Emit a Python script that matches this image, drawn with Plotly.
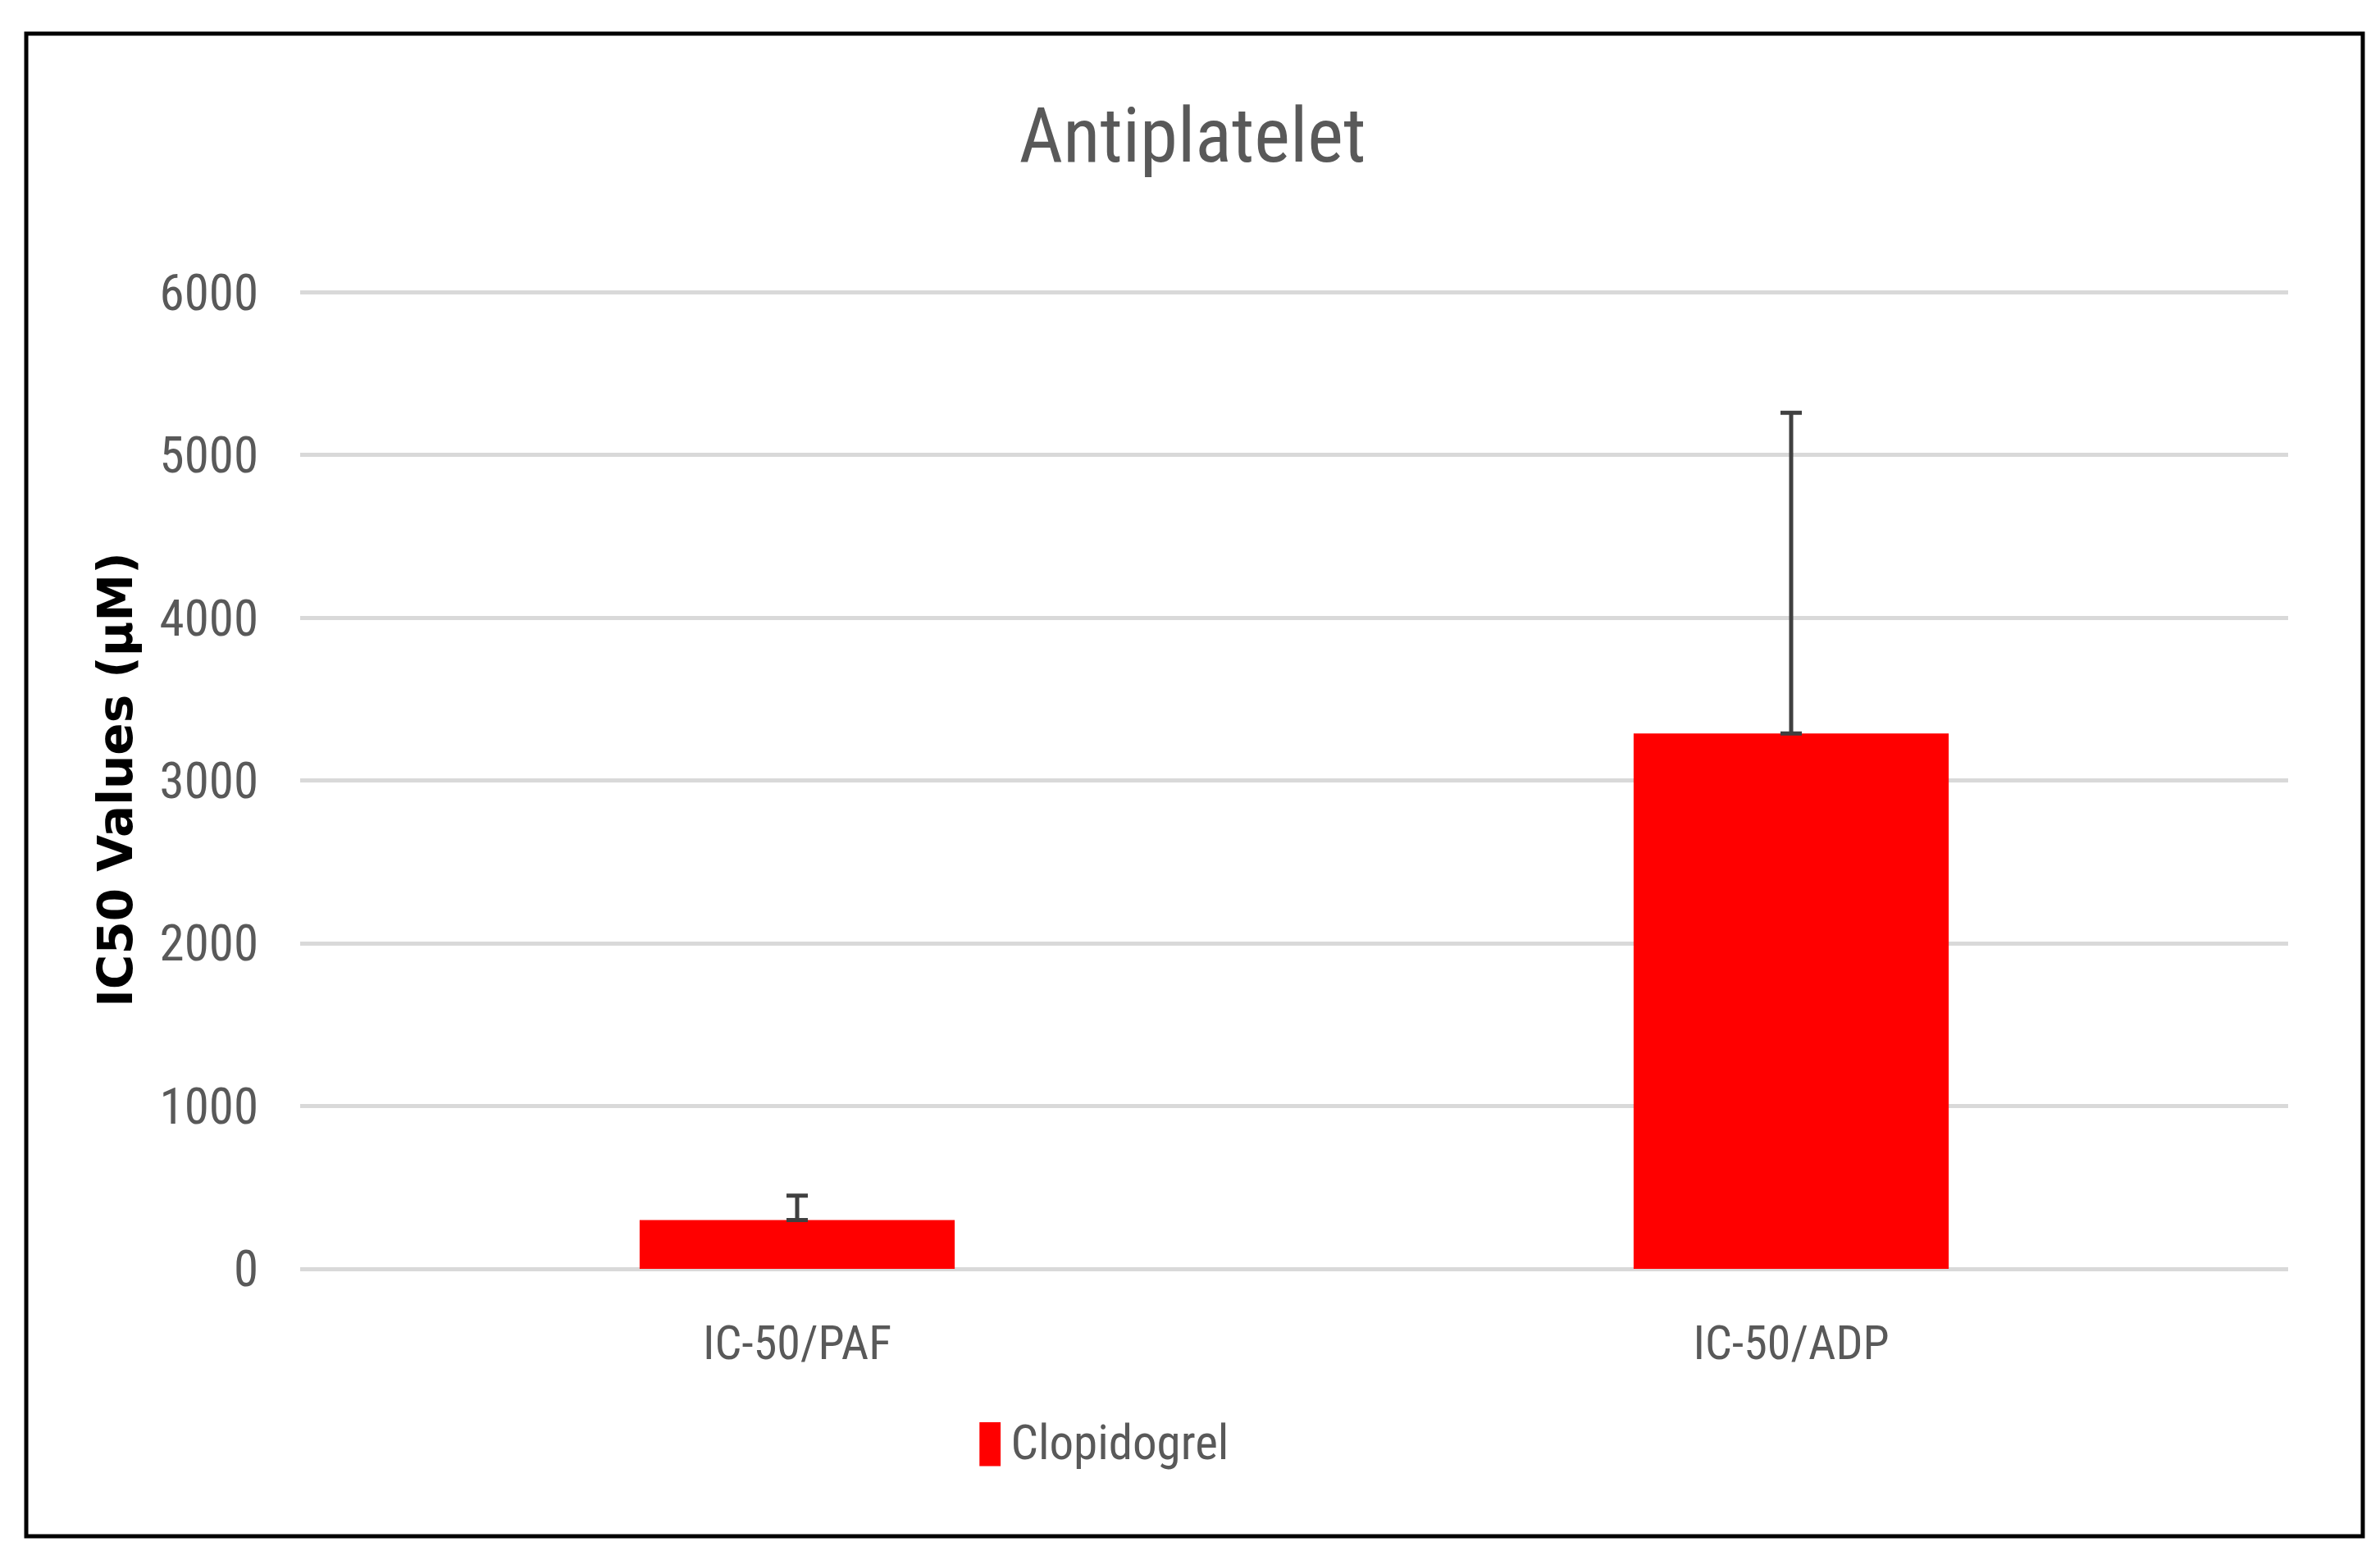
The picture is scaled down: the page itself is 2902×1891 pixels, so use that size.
import plotly.graph_objects as go

# values
categories = ["IC-50/PAF", "IC-50/ADP"]
ic50_values = [300, 3290]
ic50_errors = [150, 1970]
y_ticks = [0, 1000, 2000, 3000, 4000, 5000, 6000]
series_name = "Clopidogrel"

NARROW = "Liberation Sans Narrow, Arial Narrow, Roboto Condensed, Liberation Sans, sans-serif"
GREY = "#595959"
GRID = "#D9D9D9"
W, H = 2902, 1891
ML, MR, MT, MB = 358, 120, 346, 352


def px_to_paper_x(px):
    return (px - ML) / (W - ML - MR)


def px_to_paper_y(py):
    return (H - MB - py) / (H - MT - MB)


fig = go.Figure()
fig.add_trace(go.Bar(
    x=categories,
    y=ic50_values,
    name=series_name,
    marker=dict(color="#FF0000", line=dict(width=0)),
    error_y=dict(type="data", array=ic50_errors, arrayminus=[0] * len(ic50_errors),
                 symmetric=False, color="#404040", thickness=5, width=13),
    showlegend=False,
))

fig.update_layout(
    width=W,
    height=H,
    paper_bgcolor="white",
    plot_bgcolor="white",
    margin=dict(l=ML, r=MR, t=MT, b=MB, autoexpand=False),
    bargap=0.683,
    title=dict(text="Antiplatelet", x=1446 / W, xref="container", xanchor="center",
               y=1 - 156 / H, yanchor="middle", yref="container",
               font=dict(family=NARROW, size=93, color=GREY)),
    xaxis=dict(showgrid=False, showline=False, zeroline=False, ticks="",
               tickfont=dict(family=NARROW, size=58, color=GREY),
               ticklabelstandoff=51),
    yaxis=dict(range=[0, 6012], tickvals=y_ticks, showline=False,
               zeroline=True, zerolinecolor=GRID, zerolinewidth=5,
               showgrid=True, gridcolor=GRID, gridwidth=5, ticks="",
               tickfont=dict(family=NARROW, size=61, color=GREY),
               ticklabelstandoff=50,
               title=dict(text="IC50 Values (µM)", standoff=14,
                          font=dict(family="DejaVu Sans", size=58, color="black",
                                    weight="bold"))),
)

# legend entry, drawn as text below the axis
fig.add_annotation(
    text=('<span style="color:#FF0000;font-family:DejaVu Sans;font-size:70px">▮</span>'
          '<span style="font-size:26px"> </span>' + series_name),
    xref="paper", yref="paper", x=px_to_paper_x(1335), y=px_to_paper_y(1747),
    xanchor="center", yanchor="middle", showarrow=False,
    font=dict(family=NARROW, size=59, color=GREY),
)

# outer frame
fig.add_shape(type="rect", xref="paper", yref="paper",
              x0=px_to_paper_x(24), x1=px_to_paper_x(2873),
              y0=px_to_paper_y(1865), y1=px_to_paper_y(33),
              line=dict(color="black", width=5), fillcolor="rgba(0,0,0,0)", layer="below")

fig.write_html("out.html")
